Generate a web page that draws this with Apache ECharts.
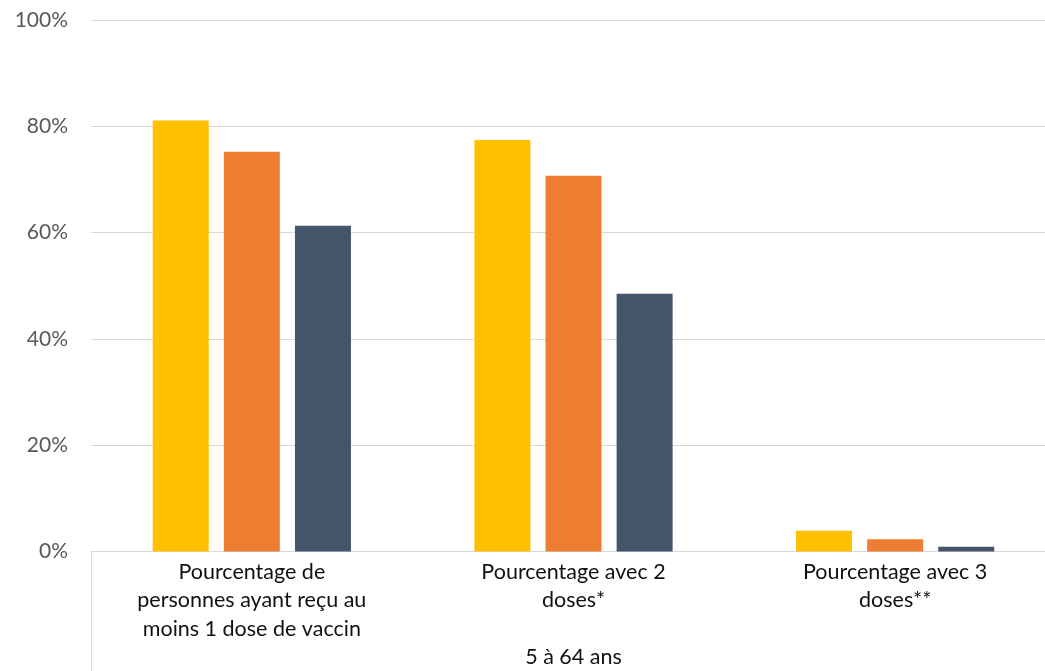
<!DOCTYPE html>
<html>
<head>
<meta charset="utf-8">
<script src="https://cdn.jsdelivr.net/npm/echarts@6/dist/echarts.min.js"></script>
<style>
  html, body { margin: 0; padding: 0; background: #ffffff; overflow: hidden; }
  /* the canvas is a little wider than the window; its right edge is cut off */
  #chart { width: 1056px; height: 671px; }
</style>
</head>
<body>
<div id="chart"></div>
<script>
// Vaccination coverage, 5 to 64 years
const categories = [
  'Pourcentage de\npersonnes ayant reçu au\nmoins 1 dose de vaccin',
  'Pourcentage avec 2\ndoses*',
  'Pourcentage avec 3\ndoses**'
];
const groupLabel = ['5 à 64 ans'];
const seriesNames = ['Série 1', 'Série 2', 'Série 3'];
const series1 = [81.1, 77.4, 3.9];
const series2 = [75.2, 70.7, 2.3];
const series3 = [61.3, 48.5, 0.9];
const yTicks = { min: 0, max: 100, interval: 20 };

const colors = ['#FFC000', '#ED7D31', '#44546A'];
const FONT = 'Lato, "Noto Sans", sans-serif';

const chart = echarts.init(document.getElementById('chart'), null, { renderer: 'canvas' });

const values = [series1, series2, series3];

chart.setOption({
  animation: false,
  backgroundColor: '#ffffff',
  grid: { left: 91, right: 0, top: 20, bottom: 119, containLabel: false },
  xAxis: [
    {
      type: 'category',
      data: categories,
      position: 'bottom',
      axisLine: { show: true, lineStyle: { color: '#d9d9d9', width: 1 } },
      axisTick: { show: false },
      axisLabel: {
        interval: 0,
        margin: 6,
        fontFamily: FONT,
        fontSize: 21.5,
        lineHeight: 28.5,
        color: '#111111',
        align: 'center'
      },
      splitLine: { show: false }
    },
    {
      type: 'category',
      data: groupLabel,
      position: 'bottom',
      offset: 0,
      axisLine: { show: false },
      axisTick: { show: true, length: 125, lineStyle: { color: '#d9d9d9', width: 1 } },
      axisLabel: {
        margin: 91,
        fontFamily: FONT,
        fontSize: 21.5,
        lineHeight: 28.5,
        color: '#111111'
      },
      splitLine: { show: false }
    }
  ],
  yAxis: {
    type: 'value',
    min: yTicks.min,
    max: yTicks.max,
    interval: yTicks.interval,
    axisLine: { show: false },
    axisTick: { show: false },
    axisLabel: {
      formatter: '{value}%',
      margin: 23,
      fontFamily: FONT,
      fontSize: 21,
      color: '#595959'
    },
    splitLine: { show: true, lineStyle: { color: '#d9d9d9', width: 1 } }
  },
  series: values.map((v, i) => ({
    name: seriesNames[i],
    type: 'bar',
    xAxisIndex: 0,
    data: v,
    barWidth: 56,
    barGap: '27%',
    itemStyle: { color: colors[i] }
  }))
});
</script>
</body>
</html>
